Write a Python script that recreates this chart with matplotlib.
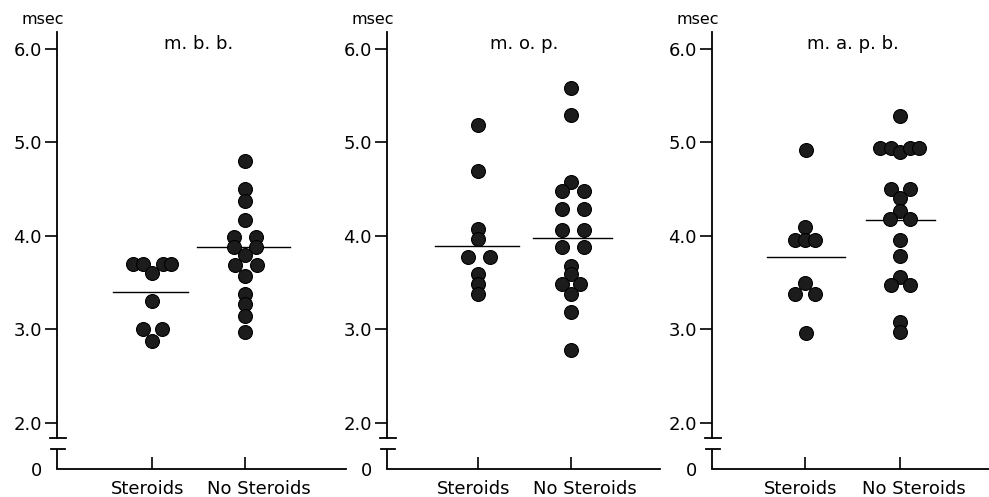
import matplotlib.pyplot as plt
import numpy as np

# latency values (msec)
muscles = ["m. b. b.", "m. o. p.", "m. a. p. b."]
groups = ["Steroids", "No Steroids"]
ytick_vals = [2.0, 3.0, 4.0, 5.0, 6.0]

mbb_ster = [3.7, 3.7, 3.6, 3.7, 3.7, 3.3, 3.0, 3.0, 2.87]
mbb_ster_dx = [-0.20, -0.10, 0.0, 0.12, 0.20, 0.0, -0.10, 0.11, 0.0]
mbb_nost = [4.8, 4.5, 4.37, 4.17, 3.98, 3.98, 3.88, 3.88, 3.79, 3.68, 3.68, 3.57, 3.37, 3.27, 3.14, 2.97]
mbb_nost_dx = [0, 0, 0, 0, -0.12, 0.12, -0.12, 0.12, 0, -0.11, 0.13, 0, 0, 0, 0, 0]

mop_ster = [5.18, 4.69, 4.07, 3.96, 3.77, 3.77, 3.59, 3.48, 3.37]
mop_ster_dx = [0, 0, 0, 0, -0.11, 0.13, 0, 0, 0]
mop_nost = [5.58, 5.29, 4.57, 4.48, 4.48, 4.28, 4.28, 4.06, 4.06, 3.88, 3.88,
            3.67, 3.59, 3.48, 3.48, 3.37, 3.18, 2.78]
mop_nost_dx = [0, 0, 0, -0.10, 0.14, -0.10, 0.14, -0.10, 0.14, -0.10, 0.14,
               0, 0, -0.10, 0.10, 0, 0, 0]

mapb_ster = [4.92, 4.09, 3.95, 3.95, 3.95, 3.49, 3.38, 3.38, 2.96]
mapb_ster_dx = [0.01, 0, -0.11, 0, 0.11, 0, -0.11, 0.10, 0.01]
mapb_nost = [5.28, 4.94, 4.94, 4.89, 4.94, 4.94, 4.5, 4.5, 4.4, 4.26, 4.18, 4.18,
             3.95, 3.78, 3.56, 3.47, 3.47, 3.08, 2.97]
mapb_nost_dx = [0, -0.21, -0.10, 0, 0.10, 0.20, -0.09, 0.10, 0, 0, -0.11, 0.11,
                0, 0, 0, -0.09, 0.10, 0, 0]

# group means (horizontal bars)
mbb_means = [3.40, 3.88]
mop_means = [3.89, 3.97]
mapb_means = [3.77, 4.17]

panels = [
    (mbb_ster, mbb_ster_dx, mbb_nost, mbb_nost_dx, mbb_means),
    (mop_ster, mop_ster_dx, mop_nost, mop_nost_dx, mop_means),
    (mapb_ster, mapb_ster_dx, mapb_nost, mapb_nost_dx, mapb_means),
]

# layout in pixels (989 x 497 figure)
W, H = 989, 497
spine_px = [57, 387, 712]
cat1_px = [152, 478, 805]
cat2_px = [245, 571, 900]
right_px = [346, 660, 989]
mean_span = [[(-0.42, 0.39), (-0.52, 0.48)],
             [(-0.46, 0.44), (-0.41, 0.44)],
             [(-0.40, 0.42), (-0.36, 0.37)]]
label_shift_pt = [-3, 10]  # category labels sit a bit off their ticks
y_axis_px = 469.3
px_per_y = 93.5
ybot, ytop = 1.5, 6.4
brk_hi, brk_lo = 1.84, 1.72

fig = plt.figure(figsize=(W / 100, H / 100), dpi=100)

for i, (s_vals, s_dx, n_vals, n_dx, means) in enumerate(panels):
    ppu = cat2_px[i] - cat1_px[i]
    xl = 1 - (cat1_px[i] - spine_px[i]) / ppu
    xr = 2 + (right_px[i] - cat2_px[i]) / ppu
    top_px = y_axis_px - (ytop - ybot) * px_per_y
    ax = fig.add_axes([spine_px[i] / W, (H - y_axis_px) / H,
                       (right_px[i] - spine_px[i]) / W, (y_axis_px - top_px) / H])
    ax.set_xlim(xl, xr)
    ax.set_ylim(ybot, ytop)

    for pos, vals, dx in [(1, s_vals, s_dx), (2, n_vals, n_dx)]:
        ax.plot(pos + np.array(dx), vals, "o", ms=10, mfc="#1c1c1c", mec="black",
                mew=0.8, clip_on=False, zorder=3)
    for pos, m, (a, b) in zip([1, 2], means, mean_span[i]):
        ax.plot([pos + a, pos + b], [m, m], color="black", lw=1.0, zorder=2)

    # axes with broken y axis
    for side in ["top", "right"]:
        ax.spines[side].set_visible(False)
    ax.spines["left"].set_bounds(brk_hi, 6.18)
    ax.spines["left"].set_linewidth(1.3)
    ax.spines["bottom"].set_linewidth(1.3)
    ax.plot([xl, xl], [ybot, brk_lo], color="black", lw=1.3, clip_on=False,
            solid_capstyle="butt")
    ax.plot([xl - 0.075, xl + 0.097], [brk_hi, brk_hi], color="black", lw=1.3, clip_on=False)
    ax.plot([xl - 0.065, xl + 0.086], [brk_lo, brk_lo], color="black", lw=1.3, clip_on=False)

    ax.set_yticks([ybot] + ytick_vals)
    ax.set_yticklabels(["0"] + [f"{v:.1f}" for v in ytick_vals], fontsize=13)
    ax.tick_params(axis="y", direction="out", length=9, width=1.2, pad=2)
    ax.yaxis.get_major_ticks()[0].tick1line.set_visible(False)

    ax.set_xticks([1, 2])
    ax.set_xticklabels(["", ""])
    ax.tick_params(axis="x", direction="in", length=9, width=1.2)
    for pos, name, sh in zip([1, 2], groups, label_shift_pt):
        ax.annotate(name, xy=(pos, ybot), xytext=(sh, -14), textcoords="offset points",
                    fontsize=13, ha="center", va="center", annotation_clip=False)

    ax.text(xl - 14 / ppu, 6.31, "msec", fontsize=11.5, ha="center", va="center")
    ax.text(1.5, 6.05, muscles[i], fontsize=13, ha="center", va="center")

fig.savefig("out.png", dpi=100)
